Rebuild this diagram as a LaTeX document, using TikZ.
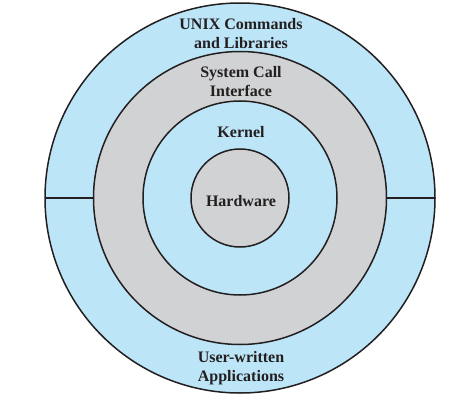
\documentclass[tikz,border=0pt]{standalone}
\usepackage{fontspec}
\setmainfont{Liberation Serif}
\definecolor{ringblue}{HTML}{BDE5F8}
\definecolor{ringgray}{HTML}{D1D2D4}
\definecolor{ink}{HTML}{231F20}
\begin{document}
\begin{tikzpicture}[x=1pt,y=-1pt,
  ring/.style={circle, draw=ink, line width=1.5pt, inner sep=0pt, outer sep=0pt},
  lbl/.style={align=center, font=\fontsize{16}{19}\selectfont\bfseries, text=ink, inner sep=0pt}]
\useasboundingbox (0,0) rectangle (476,401);
\node[ring, fill=ringblue, minimum size=390pt] (apps) at (240,198) {};
\node[ring, fill=ringgray, minimum size=293pt] (sci) at (240,198) {};
\node[ring, fill=ringblue, minimum size=194pt] (kern) at (240,198) {};
\node[ring, fill=ringgray, minimum size=98pt] (hw) at (240,198) {};
\draw[ink, line width=1.5pt] (apps.west) -- (sci.west);
\draw[ink, line width=1.5pt] (sci.east) -- (apps.east);
\node[lbl] (unix) at (241,33.5) {UNIX Commands\\and Libraries};
\node[lbl] (sys) at (241,82) {System Call\\Interface};
\node[lbl] (k) at (241,132) {Kernel};
\node[lbl] (h) at (241,201) {Hardware};
\node[lbl] (user) at (241,368.5) {User-written\\Applications};
\end{tikzpicture}
\end{document}
